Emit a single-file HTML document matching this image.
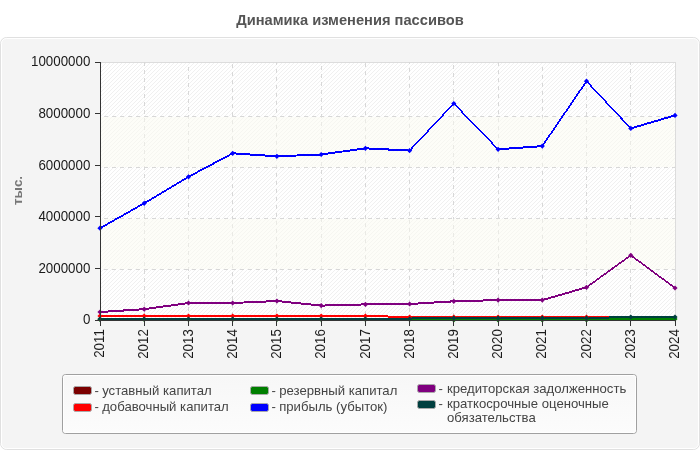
<!DOCTYPE html>
<html><head><meta charset="utf-8"><title>Динамика изменения пассивов</title>
<style>
html,body{margin:0;padding:0;background:#fff;}
body{width:700px;height:450px;position:relative;overflow:hidden;font-family:"Liberation Sans",Arial,sans-serif;}
svg{position:absolute;left:0;top:0;}
</style></head><body>
<svg width="700" height="450" viewBox="0 0 700 450" font-family="Liberation Sans, Arial, sans-serif">
<defs>
<pattern id="stripes" patternUnits="userSpaceOnUse" x="1" width="4" height="4">
<rect width="4" height="4" fill="#ffffff"/>
<path d="M-1,1 l2,-2 M0,4 l4,-4 M3,5 l2,-2" stroke="#f0f0f0" stroke-width="1"/>
</pattern>
<linearGradient id="lg" x1="0" y1="0" x2="0" y2="1"><stop offset="0" stop-color="#f7f7f7"/><stop offset="1" stop-color="#fcfcfc"/></linearGradient>
</defs>
<text transform="translate(350,25.4)" text-anchor="middle" font-size="14.67" font-weight="bold" fill="#555">Динамика изменения пассивов</text>
<rect x="0.5" y="37.5" width="699" height="412" rx="6" fill="#f4f4f4" stroke="#e0e0e0"/>
<rect x="1.5" y="38.5" width="697" height="410" rx="5" fill="none" stroke="#ffffff"/>
<rect x="100" y="62" width="576" height="258" fill="url(#stripes)"/>
<line x1="100" y1="62.5" x2="676" y2="62.5" stroke="#dcdcdc"/>
<line x1="675.5" y1="62" x2="675.5" y2="320" stroke="#dcdcdc"/>
<line x1="104" y1="116.5" x2="675" y2="116.5" stroke="#d8d8d8" stroke-width="1" stroke-dasharray="4 4"/>
<line x1="104" y1="167.5" x2="675" y2="167.5" stroke="#d8d8d8" stroke-width="1" stroke-dasharray="4 4"/>
<line x1="104" y1="218.5" x2="675" y2="218.5" stroke="#d8d8d8" stroke-width="1" stroke-dasharray="4 4"/>
<line x1="104" y1="269.5" x2="675" y2="269.5" stroke="#d8d8d8" stroke-width="1" stroke-dasharray="4 4"/>
<line x1="144.5" y1="62" x2="144.5" y2="320" stroke="#d8d8d8" stroke-width="1" stroke-dasharray="4 4" stroke-dashoffset="0"/>
<line x1="188.5" y1="62" x2="188.5" y2="320" stroke="#d8d8d8" stroke-width="1" stroke-dasharray="4 4" stroke-dashoffset="3"/>
<line x1="232.5" y1="62" x2="232.5" y2="320" stroke="#d8d8d8" stroke-width="1" stroke-dasharray="4 4" stroke-dashoffset="6"/>
<line x1="276.5" y1="62" x2="276.5" y2="320" stroke="#d8d8d8" stroke-width="1" stroke-dasharray="4 4" stroke-dashoffset="1"/>
<line x1="321.5" y1="62" x2="321.5" y2="320" stroke="#d8d8d8" stroke-width="1" stroke-dasharray="4 4" stroke-dashoffset="4"/>
<line x1="365.5" y1="62" x2="365.5" y2="320" stroke="#d8d8d8" stroke-width="1" stroke-dasharray="4 4" stroke-dashoffset="7"/>
<line x1="409.5" y1="62" x2="409.5" y2="320" stroke="#d8d8d8" stroke-width="1" stroke-dasharray="4 4" stroke-dashoffset="2"/>
<line x1="453.5" y1="62" x2="453.5" y2="320" stroke="#d8d8d8" stroke-width="1" stroke-dasharray="4 4" stroke-dashoffset="5"/>
<line x1="498.5" y1="62" x2="498.5" y2="320" stroke="#d8d8d8" stroke-width="1" stroke-dasharray="4 4" stroke-dashoffset="0"/>
<line x1="542.5" y1="62" x2="542.5" y2="320" stroke="#d8d8d8" stroke-width="1" stroke-dasharray="4 4" stroke-dashoffset="3"/>
<line x1="586.5" y1="62" x2="586.5" y2="320" stroke="#d8d8d8" stroke-width="1" stroke-dasharray="4 4" stroke-dashoffset="6"/>
<line x1="630.5" y1="62" x2="630.5" y2="320" stroke="#d8d8d8" stroke-width="1" stroke-dasharray="4 4" stroke-dashoffset="1"/>
<rect x="101" y="117" width="574" height="50" fill="#fcfcf2" fill-opacity="0.5"/>
<rect x="101" y="219" width="574" height="50" fill="#fcfcf2" fill-opacity="0.5"/>
<g stroke="#7b0000" stroke-linecap="round" shape-rendering="crispEdges"><line x1="100.0" y1="319.5" x2="144.2" y2="319.5" stroke-width="2.00"/><line x1="144.2" y1="319.5" x2="188.5" y2="319.5" stroke-width="2.00"/><line x1="188.5" y1="319.5" x2="232.7" y2="319.5" stroke-width="2.00"/><line x1="232.7" y1="319.5" x2="276.9" y2="319.5" stroke-width="2.00"/><line x1="276.9" y1="319.5" x2="321.2" y2="319.5" stroke-width="2.00"/><line x1="321.2" y1="319.5" x2="365.4" y2="319.5" stroke-width="2.00"/><line x1="365.4" y1="319.5" x2="409.6" y2="319.5" stroke-width="2.00"/><line x1="409.6" y1="319.5" x2="453.8" y2="319.5" stroke-width="2.00"/><line x1="453.8" y1="319.5" x2="498.1" y2="319.5" stroke-width="2.00"/><line x1="498.1" y1="319.5" x2="542.3" y2="319.5" stroke-width="2.00"/><line x1="542.3" y1="319.5" x2="586.5" y2="319.5" stroke-width="2.00"/><line x1="586.5" y1="319.5" x2="630.8" y2="319.5" stroke-width="2.00"/><line x1="630.8" y1="319.5" x2="675.0" y2="319.5" stroke-width="2.00"/></g>
<g stroke="#ff0000" stroke-linecap="round" shape-rendering="crispEdges"><line x1="100.0" y1="316.0" x2="144.2" y2="316.0" stroke-width="2.00"/><line x1="144.2" y1="316.0" x2="188.5" y2="316.0" stroke-width="2.00"/><line x1="188.5" y1="316.0" x2="232.7" y2="316.0" stroke-width="2.00"/><line x1="232.7" y1="316.0" x2="276.9" y2="316.0" stroke-width="2.00"/><line x1="276.9" y1="316.0" x2="321.2" y2="316.0" stroke-width="2.00"/><line x1="321.2" y1="316.0" x2="365.4" y2="316.0" stroke-width="2.00"/><line x1="365.4" y1="316.0" x2="409.6" y2="317.0" stroke-width="2.00"/><line x1="409.6" y1="317.0" x2="453.8" y2="317.0" stroke-width="2.00"/><line x1="453.8" y1="317.0" x2="498.1" y2="317.0" stroke-width="2.00"/><line x1="498.1" y1="317.0" x2="542.3" y2="317.0" stroke-width="2.00"/><line x1="542.3" y1="317.0" x2="586.5" y2="317.0" stroke-width="2.00"/><line x1="586.5" y1="317.0" x2="630.8" y2="318.0" stroke-width="2.00"/><line x1="630.8" y1="318.0" x2="675.0" y2="318.0" stroke-width="2.00"/></g>
<g stroke="#007f00" stroke-linecap="round" shape-rendering="crispEdges"><line x1="100.0" y1="319.5" x2="144.2" y2="319.5" stroke-width="2.00"/><line x1="144.2" y1="319.5" x2="188.5" y2="319.5" stroke-width="2.00"/><line x1="188.5" y1="319.5" x2="232.7" y2="319.5" stroke-width="2.00"/><line x1="232.7" y1="319.5" x2="276.9" y2="319.5" stroke-width="2.00"/><line x1="276.9" y1="319.5" x2="321.2" y2="319.5" stroke-width="2.00"/><line x1="321.2" y1="319.5" x2="365.4" y2="319.5" stroke-width="2.00"/><line x1="365.4" y1="319.5" x2="409.6" y2="319.5" stroke-width="2.00"/><line x1="409.6" y1="319.5" x2="453.8" y2="320.0" stroke-width="2.00"/><line x1="453.8" y1="320.0" x2="498.1" y2="320.0" stroke-width="2.00"/><line x1="498.1" y1="320.0" x2="542.3" y2="320.0" stroke-width="2.00"/><line x1="542.3" y1="320.0" x2="586.5" y2="320.0" stroke-width="2.00"/><line x1="586.5" y1="320.0" x2="630.8" y2="319.0" stroke-width="2.00"/><line x1="630.8" y1="319.0" x2="675.0" y2="319.0" stroke-width="2.00"/></g>
<g stroke="#0000ff" stroke-linecap="round" shape-rendering="crispEdges"><line x1="100.0" y1="228.2" x2="144.2" y2="203.3" stroke-width="1.74"/><line x1="144.2" y1="203.3" x2="188.5" y2="176.8" stroke-width="1.72"/><line x1="188.5" y1="176.8" x2="232.7" y2="153.3" stroke-width="1.77"/><line x1="232.7" y1="153.3" x2="276.9" y2="156.3" stroke-width="2.00"/><line x1="276.9" y1="156.3" x2="321.2" y2="154.5" stroke-width="2.00"/><line x1="321.2" y1="154.5" x2="365.4" y2="148.3" stroke-width="1.98"/><line x1="365.4" y1="148.3" x2="409.6" y2="150.6" stroke-width="2.00"/><line x1="409.6" y1="150.6" x2="453.8" y2="103.5" stroke-width="1.46"/><line x1="453.8" y1="103.5" x2="498.1" y2="149.3" stroke-width="1.44"/><line x1="498.1" y1="149.3" x2="542.3" y2="146.1" stroke-width="1.99"/><line x1="542.3" y1="146.1" x2="586.5" y2="81.2" stroke-width="1.65"/><line x1="586.5" y1="81.2" x2="630.8" y2="128.4" stroke-width="1.46"/><line x1="630.8" y1="128.4" x2="675.0" y2="115.4" stroke-width="1.92"/></g>
<g stroke="#7f007f" stroke-linecap="round" shape-rendering="crispEdges"><line x1="100.0" y1="312.0" x2="144.2" y2="309.2" stroke-width="2.00"/><line x1="144.2" y1="309.2" x2="188.5" y2="303.0" stroke-width="1.98"/><line x1="188.5" y1="303.0" x2="232.7" y2="303.0" stroke-width="2.00"/><line x1="232.7" y1="303.0" x2="276.9" y2="301.0" stroke-width="2.00"/><line x1="276.9" y1="301.0" x2="321.2" y2="305.6" stroke-width="1.99"/><line x1="321.2" y1="305.6" x2="365.4" y2="304.4" stroke-width="2.00"/><line x1="365.4" y1="304.4" x2="409.6" y2="304.0" stroke-width="2.00"/><line x1="409.6" y1="304.0" x2="453.8" y2="301.3" stroke-width="2.00"/><line x1="453.8" y1="301.3" x2="498.1" y2="300.1" stroke-width="2.00"/><line x1="498.1" y1="300.1" x2="542.3" y2="300.1" stroke-width="2.00"/><line x1="542.3" y1="300.1" x2="586.5" y2="287.3" stroke-width="1.92"/><line x1="586.5" y1="287.3" x2="630.8" y2="255.3" stroke-width="1.62"/><line x1="630.8" y1="255.3" x2="675.0" y2="288.0" stroke-width="1.61"/></g>
<g stroke="#003f3f" stroke-linecap="round" shape-rendering="crispEdges"><line x1="100.0" y1="319.0" x2="144.2" y2="319.0" stroke-width="2.00"/><line x1="144.2" y1="319.0" x2="188.5" y2="319.0" stroke-width="2.00"/><line x1="188.5" y1="319.0" x2="232.7" y2="319.0" stroke-width="2.00"/><line x1="232.7" y1="319.0" x2="276.9" y2="319.0" stroke-width="2.00"/><line x1="276.9" y1="319.0" x2="321.2" y2="319.0" stroke-width="2.00"/><line x1="321.2" y1="319.0" x2="365.4" y2="319.0" stroke-width="2.00"/><line x1="365.4" y1="319.0" x2="409.6" y2="319.0" stroke-width="2.00"/><line x1="409.6" y1="319.0" x2="412.0" y2="318.0" stroke-width="1.84"/><line x1="412.0" y1="318.0" x2="453.8" y2="318.0" stroke-width="2.00"/><line x1="453.8" y1="318.0" x2="498.1" y2="318.0" stroke-width="2.00"/><line x1="498.1" y1="318.0" x2="542.3" y2="318.0" stroke-width="2.00"/><line x1="542.3" y1="318.0" x2="586.5" y2="318.0" stroke-width="2.00"/><line x1="586.5" y1="318.0" x2="630.8" y2="317.0" stroke-width="2.00"/><line x1="630.8" y1="317.0" x2="675.0" y2="317.0" stroke-width="2.00"/></g>
<rect x="608" y="318" width="1" height="1" fill="#003f3f"/>
<path d="M100.0 313.4L102.6 316.0L100.0 318.6L97.4 316.0Z" fill="#ff0000"/>
<path d="M144.2 313.4L146.8 316.0L144.2 318.6L141.6 316.0Z" fill="#ff0000"/>
<path d="M188.5 313.4L191.1 316.0L188.5 318.6L185.9 316.0Z" fill="#ff0000"/>
<path d="M232.7 313.4L235.3 316.0L232.7 318.6L230.1 316.0Z" fill="#ff0000"/>
<path d="M276.9 313.4L279.5 316.0L276.9 318.6L274.3 316.0Z" fill="#ff0000"/>
<path d="M321.2 313.4L323.8 316.0L321.2 318.6L318.6 316.0Z" fill="#ff0000"/>
<path d="M365.4 313.4L368.0 316.0L365.4 318.6L362.8 316.0Z" fill="#ff0000"/>
<path d="M409.6 314.4L412.2 317.0L409.6 319.6L407.0 317.0Z" fill="#ff0000"/>
<path d="M453.8 314.4L456.4 317.0L453.8 319.6L451.2 317.0Z" fill="#ff0000"/>
<path d="M498.1 314.4L500.7 317.0L498.1 319.6L495.5 317.0Z" fill="#ff0000"/>
<path d="M542.3 314.4L544.9 317.0L542.3 319.6L539.7 317.0Z" fill="#ff0000"/>
<path d="M586.5 314.4L589.1 317.0L586.5 319.6L583.9 317.0Z" fill="#ff0000"/>
<path d="M100.0 316.9L102.6 319.5L100.0 322.1L97.4 319.5Z" fill="#007f00"/>
<path d="M144.2 316.9L146.8 319.5L144.2 322.1L141.6 319.5Z" fill="#007f00"/>
<path d="M188.5 316.9L191.1 319.5L188.5 322.1L185.9 319.5Z" fill="#007f00"/>
<path d="M232.7 316.9L235.3 319.5L232.7 322.1L230.1 319.5Z" fill="#007f00"/>
<path d="M276.9 316.9L279.5 319.5L276.9 322.1L274.3 319.5Z" fill="#007f00"/>
<path d="M321.2 316.9L323.8 319.5L321.2 322.1L318.6 319.5Z" fill="#007f00"/>
<path d="M365.4 316.9L368.0 319.5L365.4 322.1L362.8 319.5Z" fill="#007f00"/>
<path d="M409.6 316.9L412.2 319.5L409.6 322.1L407.0 319.5Z" fill="#007f00"/>
<path d="M453.8 317.4L456.4 320.0L453.8 322.6L451.2 320.0Z" fill="#007f00"/>
<path d="M498.1 317.4L500.7 320.0L498.1 322.6L495.5 320.0Z" fill="#007f00"/>
<path d="M542.3 317.4L544.9 320.0L542.3 322.6L539.7 320.0Z" fill="#007f00"/>
<path d="M586.5 317.4L589.1 320.0L586.5 322.6L583.9 320.0Z" fill="#007f00"/>
<path d="M630.8 316.4L633.4 319.0L630.8 321.6L628.2 319.0Z" fill="#007f00"/>
<path d="M675.0 316.4L677.6 319.0L675.0 321.6L672.4 319.0Z" fill="#007f00"/>
<path d="M100.0 225.6L102.6 228.2L100.0 230.8L97.4 228.2Z" fill="#0000ff"/>
<path d="M144.2 200.7L146.8 203.3L144.2 205.9L141.6 203.3Z" fill="#0000ff"/>
<path d="M188.5 174.2L191.1 176.8L188.5 179.4L185.9 176.8Z" fill="#0000ff"/>
<path d="M232.7 150.7L235.3 153.3L232.7 155.9L230.1 153.3Z" fill="#0000ff"/>
<path d="M276.9 153.7L279.5 156.3L276.9 158.9L274.3 156.3Z" fill="#0000ff"/>
<path d="M321.2 151.9L323.8 154.5L321.2 157.1L318.6 154.5Z" fill="#0000ff"/>
<path d="M365.4 145.7L368.0 148.3L365.4 150.9L362.8 148.3Z" fill="#0000ff"/>
<path d="M409.6 148.0L412.2 150.6L409.6 153.2L407.0 150.6Z" fill="#0000ff"/>
<path d="M453.8 100.9L456.4 103.5L453.8 106.1L451.2 103.5Z" fill="#0000ff"/>
<path d="M498.1 146.7L500.7 149.3L498.1 151.9L495.5 149.3Z" fill="#0000ff"/>
<path d="M542.3 143.5L544.9 146.1L542.3 148.7L539.7 146.1Z" fill="#0000ff"/>
<path d="M586.5 78.6L589.1 81.2L586.5 83.8L583.9 81.2Z" fill="#0000ff"/>
<path d="M630.8 125.8L633.4 128.4L630.8 131.0L628.2 128.4Z" fill="#0000ff"/>
<path d="M675.0 112.8L677.6 115.4L675.0 118.0L672.4 115.4Z" fill="#0000ff"/>
<path d="M100.0 309.4L102.6 312.0L100.0 314.6L97.4 312.0Z" fill="#7f007f"/>
<path d="M144.2 306.6L146.8 309.2L144.2 311.8L141.6 309.2Z" fill="#7f007f"/>
<path d="M188.5 300.4L191.1 303.0L188.5 305.6L185.9 303.0Z" fill="#7f007f"/>
<path d="M232.7 300.4L235.3 303.0L232.7 305.6L230.1 303.0Z" fill="#7f007f"/>
<path d="M276.9 298.4L279.5 301.0L276.9 303.6L274.3 301.0Z" fill="#7f007f"/>
<path d="M321.2 303.0L323.8 305.6L321.2 308.2L318.6 305.6Z" fill="#7f007f"/>
<path d="M365.4 301.8L368.0 304.4L365.4 307.0L362.8 304.4Z" fill="#7f007f"/>
<path d="M409.6 301.4L412.2 304.0L409.6 306.6L407.0 304.0Z" fill="#7f007f"/>
<path d="M453.8 298.7L456.4 301.3L453.8 303.9L451.2 301.3Z" fill="#7f007f"/>
<path d="M498.1 297.5L500.7 300.1L498.1 302.7L495.5 300.1Z" fill="#7f007f"/>
<path d="M542.3 297.5L544.9 300.1L542.3 302.7L539.7 300.1Z" fill="#7f007f"/>
<path d="M586.5 284.7L589.1 287.3L586.5 289.9L583.9 287.3Z" fill="#7f007f"/>
<path d="M630.8 252.7L633.4 255.3L630.8 257.9L628.2 255.3Z" fill="#7f007f"/>
<path d="M675.0 285.4L677.6 288.0L675.0 290.6L672.4 288.0Z" fill="#7f007f"/>
<path d="M100.0 316.4L102.6 319.0L100.0 321.6L97.4 319.0Z" fill="#003f3f"/>
<path d="M144.2 316.4L146.8 319.0L144.2 321.6L141.6 319.0Z" fill="#003f3f"/>
<path d="M188.5 316.4L191.1 319.0L188.5 321.6L185.9 319.0Z" fill="#003f3f"/>
<path d="M232.7 316.4L235.3 319.0L232.7 321.6L230.1 319.0Z" fill="#003f3f"/>
<path d="M276.9 316.4L279.5 319.0L276.9 321.6L274.3 319.0Z" fill="#003f3f"/>
<path d="M321.2 316.4L323.8 319.0L321.2 321.6L318.6 319.0Z" fill="#003f3f"/>
<path d="M365.4 316.4L368.0 319.0L365.4 321.6L362.8 319.0Z" fill="#003f3f"/>
<path d="M409.6 316.4L412.2 319.0L409.6 321.6L407.0 319.0Z" fill="#003f3f"/>
<path d="M453.8 315.4L456.4 318.0L453.8 320.6L451.2 318.0Z" fill="#003f3f"/>
<path d="M498.1 315.4L500.7 318.0L498.1 320.6L495.5 318.0Z" fill="#003f3f"/>
<path d="M542.3 315.4L544.9 318.0L542.3 320.6L539.7 318.0Z" fill="#003f3f"/>
<path d="M586.5 315.4L589.1 318.0L586.5 320.6L583.9 318.0Z" fill="#003f3f"/>
<path d="M630.8 314.4L633.4 317.0L630.8 319.6L628.2 317.0Z" fill="#003f3f"/>
<path d="M675.0 314.4L677.6 317.0L675.0 319.6L672.4 317.0Z" fill="#003f3f"/>
<line x1="100.5" y1="62" x2="100.5" y2="321" stroke="#333"/>
<line x1="100" y1="320.5" x2="676" y2="320.5" stroke="#333"/>
<g font-size="13.33" fill="#1a1a1a">
<text transform="translate(90.3,66.3) scale(1,1.08)" text-anchor="end">10000000</text>
<line x1="95" y1="62.5" x2="100" y2="62.5" stroke="#333" stroke-width="1"/>
<text transform="translate(90.3,117.9) scale(1,1.08)" text-anchor="end">8000000</text>
<line x1="95" y1="113.5" x2="100" y2="113.5" stroke="#333" stroke-width="1"/>
<text transform="translate(90.3,169.5) scale(1,1.08)" text-anchor="end">6000000</text>
<line x1="95" y1="165.5" x2="100" y2="165.5" stroke="#333" stroke-width="1"/>
<text transform="translate(90.3,221.1) scale(1,1.08)" text-anchor="end">4000000</text>
<line x1="95" y1="216.5" x2="100" y2="216.5" stroke="#333" stroke-width="1"/>
<text transform="translate(90.3,272.7) scale(1,1.08)" text-anchor="end">2000000</text>
<line x1="95" y1="268.5" x2="100" y2="268.5" stroke="#333" stroke-width="1"/>
<text transform="translate(90.3,324.3) scale(1,1.08)" text-anchor="end">0</text>
<line x1="95" y1="320.5" x2="100" y2="320.5" stroke="#333" stroke-width="1"/>
<line x1="100.5" y1="320" x2="100.5" y2="326" stroke="#333" stroke-width="1"/>
<text transform="translate(104.1,329.2) rotate(-90) scale(1,1.12)" text-anchor="end">2011</text>
<line x1="144.5" y1="320" x2="144.5" y2="326" stroke="#333" stroke-width="1"/>
<text transform="translate(148.3,329.2) rotate(-90) scale(1,1.12)" text-anchor="end">2012</text>
<line x1="188.5" y1="320" x2="188.5" y2="326" stroke="#333" stroke-width="1"/>
<text transform="translate(192.6,329.2) rotate(-90) scale(1,1.12)" text-anchor="end">2013</text>
<line x1="232.5" y1="320" x2="232.5" y2="326" stroke="#333" stroke-width="1"/>
<text transform="translate(236.8,329.2) rotate(-90) scale(1,1.12)" text-anchor="end">2014</text>
<line x1="276.5" y1="320" x2="276.5" y2="326" stroke="#333" stroke-width="1"/>
<text transform="translate(281.0,329.2) rotate(-90) scale(1,1.12)" text-anchor="end">2015</text>
<line x1="321.5" y1="320" x2="321.5" y2="326" stroke="#333" stroke-width="1"/>
<text transform="translate(325.3,329.2) rotate(-90) scale(1,1.12)" text-anchor="end">2016</text>
<line x1="365.5" y1="320" x2="365.5" y2="326" stroke="#333" stroke-width="1"/>
<text transform="translate(369.5,329.2) rotate(-90) scale(1,1.12)" text-anchor="end">2017</text>
<line x1="409.5" y1="320" x2="409.5" y2="326" stroke="#333" stroke-width="1"/>
<text transform="translate(413.7,329.2) rotate(-90) scale(1,1.12)" text-anchor="end">2018</text>
<line x1="453.5" y1="320" x2="453.5" y2="326" stroke="#333" stroke-width="1"/>
<text transform="translate(457.9,329.2) rotate(-90) scale(1,1.12)" text-anchor="end">2019</text>
<line x1="498.5" y1="320" x2="498.5" y2="326" stroke="#333" stroke-width="1"/>
<text transform="translate(502.2,329.2) rotate(-90) scale(1,1.12)" text-anchor="end">2020</text>
<line x1="542.5" y1="320" x2="542.5" y2="326" stroke="#333" stroke-width="1"/>
<text transform="translate(546.4,329.2) rotate(-90) scale(1,1.12)" text-anchor="end">2021</text>
<line x1="586.5" y1="320" x2="586.5" y2="326" stroke="#333" stroke-width="1"/>
<text transform="translate(590.6,329.2) rotate(-90) scale(1,1.12)" text-anchor="end">2022</text>
<line x1="630.5" y1="320" x2="630.5" y2="326" stroke="#333" stroke-width="1"/>
<text transform="translate(634.9,329.2) rotate(-90) scale(1,1.12)" text-anchor="end">2023</text>
<line x1="675.5" y1="320" x2="675.5" y2="326" stroke="#333" stroke-width="1"/>
<text transform="translate(679.1,329.2) rotate(-90) scale(1,1.12)" text-anchor="end">2024</text>
</g>
<text transform="translate(22,190.5) rotate(-90)" text-anchor="middle" font-size="13.33" font-weight="bold" fill="#777">тыс.</text>
<rect x="62.5" y="374.5" width="574" height="59" rx="3" fill="url(#lg)" stroke="#a0a0a0"/>
<rect x="63.5" y="375.5" width="572" height="57" rx="2" fill="none" stroke="#ffffff"/>
<g stroke="#aaa" stroke-width="1">
<rect x="73.5" y="386.5" width="18" height="8" rx="2" fill="#7b0000"/>
<rect x="73.5" y="403.5" width="18" height="8" rx="2" fill="#ff0000"/>
<rect x="250.5" y="386.5" width="18" height="8" rx="2" fill="#007f00"/>
<rect x="250.5" y="403.5" width="18" height="8" rx="2" fill="#0000ff"/>
<rect x="417.5" y="384.5" width="18" height="8" rx="2" fill="#7f007f"/>
<rect x="417.5" y="400.5" width="18" height="8" rx="2" fill="#003f3f"/>
</g>
<g font-size="13.15" fill="#444">
<text x="94.6" y="395.2">-</text><text x="102.2" y="395.2">уставный капитал</text>
<text x="94.6" y="410.5">-</text><text x="102.2" y="410.5">добавочный капитал</text>
<text x="271.4" y="395.2">-</text><text x="279.2" y="395.2">резервный капитал</text>
<text x="271.4" y="410.5">-</text><text x="279.2" y="410.5">прибыль (убыток)</text>
<text x="438.5" y="393">-</text><text x="447" y="393">кредиторская задолженность</text>
<text x="438.5" y="408.3">-</text><text x="447" y="408.3">краткосрочные оценочные</text>
<text x="447" y="421.7">обязательства</text>
</g>
</svg>
</body></html>
